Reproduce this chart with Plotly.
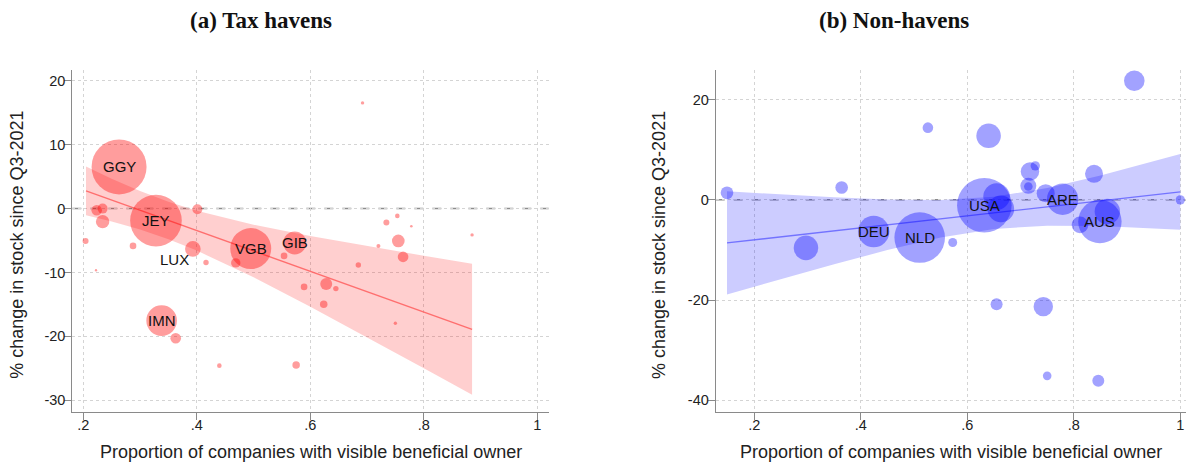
import plotly.graph_objects as go

# ---------------- Panel (a): tax havens ----------------
haven_code = ["GGY", "JEY", "VGB", "IMN", "GIB", "LUX"] + [""] * 27
haven_visible = [0.263, 0.328, 0.495, 0.338, 0.5725, 0.393, 0.2236, 0.234, 0.234, 0.204,
                 0.2224, 0.2876, 0.401, 0.4162, 0.4397, 0.3628, 0.4686, 0.5537, 0.575, 0.589,
                 0.628, 0.645, 0.6236, 0.6846, 0.692, 0.72, 0.734, 0.7533, 0.755, 0.7634,
                 0.778, 0.7498, 0.885]
haven_change = [6.53, -1.88, -6.26, -17.54, -5.37, -6.31, -0.25, 0.0, -2.04, -5.06,
                -9.65, -5.84, -0.1, -8.45, -24.59, -20.3, -8.5, -7.41, -24.48, -12.26,
                -11.79, -12.53, -14.97, -8.82, 16.55, -5.84, -2.19, -1.14, -5.06, -7.56,
                -2.76, -17.95, -4.12]
haven_weight = [756, 666, 420, 234, 132, 61, 28, 25, 45, 9,
                1.4, 11, 25, 7.3, 5.3, 28, 22, 11, 14, 11,
                36, 7.3, 14, 7.3, 2.9, 4, 9, 5.3, 40, 28,
                1.7, 2.9, 2.9]

haven_fit_x = [0.2048, 0.25, 0.3, 0.35, 0.4, 0.5, 0.6, 0.7, 0.8, 0.885]
haven_fit = [2.77, 1.33, -0.26, -1.86, -3.45, -6.64, -9.82, -13.01, -16.19, -18.9]
haven_ci_hi = [6.59, 4.69, 2.76, 1.08, -0.32, -2.52, -4.29, -5.89, -7.39, -8.64]
haven_ci_lo = [-1.05, -2.03, -3.29, -4.80, -6.58, -10.76, -15.35, -20.13, -24.99, -29.16]

# ---------------- Panel (b): non-havens ----------------
non_code = ["USA", "NLD", "AUS", "ARE", "DEU"] + [""] * 22
non_visible = [0.632, 0.5106, 0.849, 0.779, 0.4242, 0.655, 0.663, 0.863, 0.297, 0.640,
               0.9136, 0.526, 0.364, 0.1487, 0.5726, 0.655, 0.7427, 0.750, 0.846, 0.838,
               0.7177, 0.7277, 0.7146, 0.7146, 0.7472, 0.8116, 1.0]
non_change = [-1.06, -7.52, -4.33, 0.13, -6.32, 0.66, -1.8, -2.33, -9.58, 12.77,
              23.75, 14.4, 2.46, 1.4, -8.5, -20.8, -21.3, -35.1, -36.1, 5.19,
              5.65, 6.79, 2.79, 2.66, 1.33, -4.99, 0.0]
non_weight = [745, 640, 471, 246, 246, 177, 177, 161, 151, 151,
              106, 28, 40, 40, 20, 36, 94, 18.5, 36, 81,
              86, 22, 64, 18.5, 81, 69, 22]

non_fit_x = [0.1487, 0.25, 0.35, 0.45, 0.55, 0.65, 0.75, 0.85, 0.95, 1.0]
non_fit = [-8.58, -7.37, -6.17, -4.98, -3.78, -2.59, -1.39, -0.19, 1.0, 1.6]
non_ci_hi = [1.70, 1.06, 0.50, 0.06, -0.03, 0.61, 2.36, 4.85, 7.67, 9.14]
non_ci_lo = [-18.86, -15.80, -12.84, -10.02, -7.53, -5.79, -5.14, -5.23, -5.67, -5.94]

x_ticks = [0.2, 0.4, 0.6, 0.8, 1.0]
x_ticktext = [".2", ".4", ".6", ".8", "1"]
haven_y_ticks = [-30, -20, -10, 0, 10, 20]
non_y_ticks = [-40, -20, 0, 20]

W, H = 1186, 462
SANS = "Liberation Sans, Arial, sans-serif"
SERIF = "Liberation Serif, Times New Roman, serif"

fig = go.Figure()


def add_panel(fig, xs, ys, w, codes, fx, fit, lo, hi, rgb, a_fill, a_band, line_rgba, xa, ya, label_shift):
    # confidence band
    fig.add_trace(go.Scatter(
        x=fx + fx[::-1], y=hi + lo[::-1], fill="toself", mode="lines",
        line=dict(width=0), fillcolor=f"rgba({rgb},{a_band})",
        hoverinfo="skip", showlegend=False, xaxis=xa, yaxis=ya))
    # fitted line
    fig.add_trace(go.Scatter(
        x=fx, y=fit, mode="lines", line=dict(color=line_rgba, width=1.4),
        showlegend=False, xaxis=xa, yaxis=ya))
    # bubbles, area proportional to weight
    fig.add_trace(go.Scatter(
        x=xs, y=ys, mode="markers",
        marker=dict(size=w, sizemode="area", sizeref=0.5,
                    color=f"rgba({rgb},{a_fill})", line=dict(width=0)),
        showlegend=False, xaxis=xa, yaxis=ya))
    # country labels
    for xv, yv, c in zip(xs, ys, codes):
        if not c:
            continue
        dx, dy = label_shift.get(c, (0, 0))
        fig.add_annotation(x=xv, y=yv, xref=xa, yref=ya, text=c, showarrow=False,
                           xanchor="center", yanchor="middle",
                           xshift=dx, yshift=dy,
                           font=dict(family=SANS, size=15, color="#111"))


add_panel(fig, haven_visible, haven_change, haven_weight, haven_code,
          haven_fit_x, haven_fit, haven_ci_lo, haven_ci_hi,
          "255,0,0", 0.55, 0.19, "rgba(255,100,100,0.9)", "x", "y",
          {"LUX": (-18, -11)})
add_panel(fig, non_visible, non_change, non_weight, non_code,
          non_fit_x, non_fit, non_ci_lo, non_ci_hi,
          "0,0,255", 0.52, 0.2, "rgba(110,110,255,0.95)", "x2", "y2", {})

axis_common = dict(
    showline=True, linecolor="#8a8a8a", linewidth=1, mirror=False,
    ticks="outside", ticklen=7, tickcolor="#8a8a8a", tickwidth=1,
    showgrid=True, gridcolor="#d4d4d4", gridwidth=1, griddash="dot",
    zeroline=False, tickfont=dict(family=SANS, size=14.5, color="#222"),
)
x_extra = dict(tickvals=x_ticks, ticktext=x_ticktext, ticklabelstandoff=-7)

ydom = [1 - 411.7 / H, 1 - 70 / H]
fig.update_layout(
    width=W, height=H, margin=dict(l=0, r=0, t=0, b=0),
    paper_bgcolor="white", plot_bgcolor="white",
    xaxis=dict(domain=[72.3 / W, 548.7 / W], range=[0.1806, 1.020],
               anchor="y", **x_extra, **axis_common),
    yaxis=dict(domain=ydom, range=[-31.8, 21.7], tickvals=haven_y_ticks,
               ticktext=[str(v) for v in haven_y_ticks], ticklabelstandoff=-4,
               anchor="x", **axis_common),
    xaxis2=dict(domain=[715.7 / W, 1.0], range=[0.1275, 1.0107],
                anchor="y2", **x_extra, **axis_common),
    yaxis2=dict(domain=ydom, range=[-42.25, 25.9], tickvals=non_y_ticks,
                ticktext=[str(v) for v in non_y_ticks], ticklabelstandoff=-4,
                anchor="x2", **axis_common),
)

# reference line at zero change
for xr, yr in (("x domain", "y"), ("x2 domain", "y2")):
    fig.add_shape(type="line", xref=xr, yref=yr, x0=0, x1=1, y0=0, y1=0,
                  line=dict(color="#8c8c8c", width=1.5, dash="dash"), layer="below")

# panel titles
for txt, cx in (("(a) Tax havens", 261), ("(b) Non-havens", 894)):
    fig.add_annotation(x=cx / W, y=1 - 21 / H, xref="paper", yref="paper", text=f"<b>{txt}</b>",
                       showarrow=False, xanchor="center", yanchor="middle",
                       font=dict(family=SERIF, size=23, color="#111"))

# axis titles
for cx in (16.7, 659):
    fig.add_annotation(x=cx / W, y=1 - 245 / H, xref="paper", yref="paper",
                       text="% change in stock since Q3-2021", textangle=-90, showarrow=False,
                       xanchor="center", yanchor="middle",
                       font=dict(family=SANS, size=18, color="#222"))
for cx in (310.5, 950.8):
    fig.add_annotation(x=cx / W, y=1 - 452 / H, xref="paper", yref="paper",
                       text="Proportion of companies with visible beneficial owner", showarrow=False,
                       xanchor="center", yanchor="middle",
                       font=dict(family=SANS, size=18, color="#222"))

fig.write_html("out.html")
